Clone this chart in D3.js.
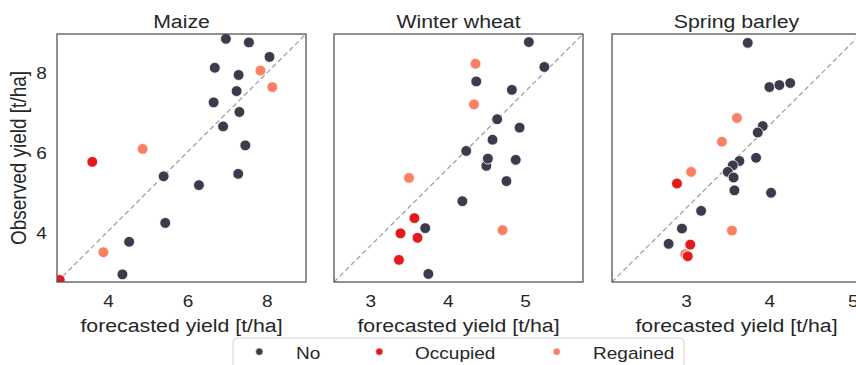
<!DOCTYPE html>
<html>
<head>
<meta charset="utf-8">
<script src="https://cdn.jsdelivr.net/npm/d3@7/dist/d3.min.js"></script>
<style>
  html, body { margin: 0; padding: 0; background: #fff; }
  svg { display: block; font-family: "Liberation Sans", Arial, sans-serif; }
</style>
</head>
<body>
<div id="chart"></div>
<script>
// ---- data: forecasted vs observed yield [t/ha] per crop, with field status ----
const crops = ["Maize", "Winter wheat", "Spring barley"];
const statusNames = ["No", "Occupied", "Regained"];
const statusColors = ["#3c3a4b", "#e31a1c", "#fa8064"];

const maizeForecast = [6.97, 7.55, 8.07, 7.84, 6.69, 7.29, 8.14, 7.24, 6.66, 7.31, 6.90, 7.46, 4.87, 3.60, 5.40, 7.28, 6.29, 5.44, 4.53, 3.88, 4.36, 2.78];
const maizeObserved = [8.84, 8.75, 8.39, 8.05, 8.12, 7.94, 7.64, 7.54, 7.26, 7.02, 6.66, 6.19, 6.10, 5.78, 5.42, 5.48, 5.20, 4.26, 3.79, 3.53, 2.98, 2.84];
const maizeStatus   = ["No", "No", "No", "Regained", "No", "No", "Regained", "No", "No", "No", "No", "No", "Regained", "Occupied", "No", "No", "No", "No", "No", "Regained", "No", "Occupied"];

const wheatForecast = [5.05, 5.25, 4.36, 4.37, 4.83, 4.34, 4.64, 4.93, 4.58, 4.24, 4.50, 4.52, 4.88, 4.76, 3.50, 4.19, 3.57, 3.71, 3.39, 3.61, 4.71, 3.37, 3.75];
const wheatObserved = [8.76, 8.14, 8.22, 7.78, 7.57, 7.21, 6.84, 6.63, 6.33, 6.05, 5.68, 5.86, 5.83, 5.30, 5.38, 4.80, 4.38, 4.13, 4.00, 3.89, 4.08, 3.34, 2.99];
const wheatStatus   = ["No", "No", "Regained", "No", "No", "Regained", "No", "No", "No", "No", "No", "No", "No", "No", "Regained", "No", "Occupied", "No", "Occupied", "Occupied", "Regained", "Occupied", "No"];

const barleyForecast = [3.74, 4.00, 4.12, 4.25, 3.61, 3.92, 3.86, 3.43, 3.64, 3.84, 3.56, 3.50, 3.57, 3.06, 2.89, 3.58, 4.02, 3.18, 2.95, 3.55, 2.79, 3.05, 2.99, 3.02];
const barleyObserved = [8.74, 7.64, 7.69, 7.74, 6.87, 6.67, 6.51, 6.28, 5.80, 5.88, 5.69, 5.53, 5.39, 5.53, 5.24, 5.07, 5.01, 4.56, 4.12, 4.07, 3.74, 3.72, 3.48, 3.43];
const barleyStatus   = ["No", "No", "No", "No", "Regained", "No", "No", "Regained", "No", "No", "No", "No", "No", "Regained", "Occupied", "No", "No", "No", "No", "Regained", "No", "Occupied", "Regained", "Occupied"];

const maizeXTicks = [4, 6, 8];
const wheatXTicks = [3, 4, 5];
const barleyXTicks = [3, 4, 5];
const yTicks = [4, 6, 8];

const maizeXDomain = [2.71, 8.99];
const wheatXDomain = [2.53, 5.75];
const barleyXDomain = [2.11, 5.10];
const yDomain = [2.79, 8.96];

// ---- layout ----
const W = 856, H = 365;
const panelW = 249, plotTop = 34, plotBottom = 282;
const panelLefts = [57, 334, 612];
const sx = 1.12;             // horizontal text stretch
const textColor = "#262626";

const panels = [
  { name: crops[0], fx: maizeForecast, fy: maizeObserved, st: maizeStatus, xd: maizeXDomain, xt: maizeXTicks },
  { name: crops[1], fx: wheatForecast, fy: wheatObserved, st: wheatStatus, xd: wheatXDomain, xt: wheatXTicks },
  { name: crops[2], fx: barleyForecast, fy: barleyObserved, st: barleyStatus, xd: barleyXDomain, xt: barleyXTicks }
];

const color = d3.scaleOrdinal().domain(statusNames).range(statusColors);
const y = d3.scaleLinear().domain(yDomain).range([plotBottom, plotTop]);

const svg = d3.select("#chart").append("svg")
  .attr("width", W).attr("height", H);

panels.forEach((p, i) => {
  const left = panelLefts[i];
  const x = d3.scaleLinear().domain(p.xd).range([left, left + panelW]);
  const cx = left + panelW / 2;

  const clipId = "clip" + i;
  svg.append("clipPath").attr("id", clipId)
    .append("rect").attr("x", left).attr("y", plotTop)
    .attr("width", panelW).attr("height", plotBottom - plotTop);

  // diagonal reference line (corner to corner)
  svg.append("line")
    .attr("x1", left).attr("y1", plotBottom)
    .attr("x2", left + panelW).attr("y2", plotTop)
    .attr("stroke", "#a3a3a3").attr("stroke-width", 1.3)
    .attr("stroke-dasharray", "5,3");

  // points
  const pts = p.fx.map((v, k) => ({ f: v, o: p.fy[k], s: p.st[k] }));
  svg.append("g").attr("clip-path", `url(#${clipId})`)
    .selectAll("circle").data(pts).join("circle")
    .attr("cx", d => x(d.f))
    .attr("cy", d => y(d.o))
    .attr("r", 5.4)
    .attr("fill", d => color(d.s))
    .attr("stroke", "#fff").attr("stroke-width", 0.8);

  // frame
  svg.append("rect")
    .attr("x", left).attr("y", plotTop)
    .attr("width", panelW).attr("height", plotBottom - plotTop)
    .attr("fill", "none").attr("stroke", "#4d4d4d").attr("stroke-width", 1.25);

  // x axis
  const gx = svg.append("g").attr("transform", `translate(0,${plotBottom})`)
    .call(d3.axisBottom(x).tickValues(p.xt).tickFormat(d3.format("d")).tickSize(0).tickPadding(12.7));
  gx.select(".domain").remove();
  gx.selectAll("text")
    .attr("transform", `scale(${sx},1)`)
    .attr("font-size", 17).attr("fill", textColor)
    .attr("font-family", "Liberation Sans, Arial, sans-serif");

  // title
  svg.append("text")
    .attr("transform", `translate(${cx},28) scale(${sx},1)`)
    .attr("text-anchor", "middle").attr("font-size", 19).attr("fill", textColor)
    .text(p.name);

  // x label
  svg.append("text")
    .attr("transform", `translate(${cx},331.5) scale(${sx},1)`)
    .attr("text-anchor", "middle").attr("font-size", 19).attr("fill", textColor)
    .text("forecasted yield [t/ha]");

  // shared y axis labels on the first panel only
  if (i === 0) {
    const gy = svg.append("g").attr("transform", `translate(${left},0)`)
      .call(d3.axisLeft(y).tickValues(yTicks).tickFormat(d3.format("d")).tickSize(0).tickPadding(9));
    gy.select(".domain").remove();
    gy.selectAll("text")
      .attr("transform", `scale(${sx},1)`)
      .attr("font-size", 17).attr("fill", textColor)
      .attr("font-family", "Liberation Sans, Arial, sans-serif");

    svg.append("text")
      .attr("transform", `translate(26,${(plotTop + plotBottom) / 2}) scale(${sx},1) rotate(-90)`)
      .attr("text-anchor", "middle").attr("font-size", 19).attr("fill", textColor)
      .text("Observed yield [t/ha]");
  }
});

// ---- legend ----
const legendMarkX = [259.3, 379.3, 556.7];
const legendTextX = [296, 415, 593];
const lg = svg.append("g");
lg.append("rect")
  .attr("x", 233).attr("y", 338).attr("width", 451).attr("height", 40)
  .attr("rx", 4).attr("fill", "#fff").attr("stroke", "#d4d4d4").attr("stroke-width", 1);
statusNames.forEach((s, k) => {
  lg.append("circle")
    .attr("cx", legendMarkX[k]).attr("cy", 351.7).attr("r", 3.6)
    .attr("fill", color(s)).attr("stroke", "#fff").attr("stroke-width", 0.5);
  lg.append("text")
    .attr("transform", `translate(${legendTextX[k]},359) scale(${sx},1)`)
    .attr("font-size", 17).attr("fill", textColor)
    .text(s);
});
</script>
</body>
</html>
